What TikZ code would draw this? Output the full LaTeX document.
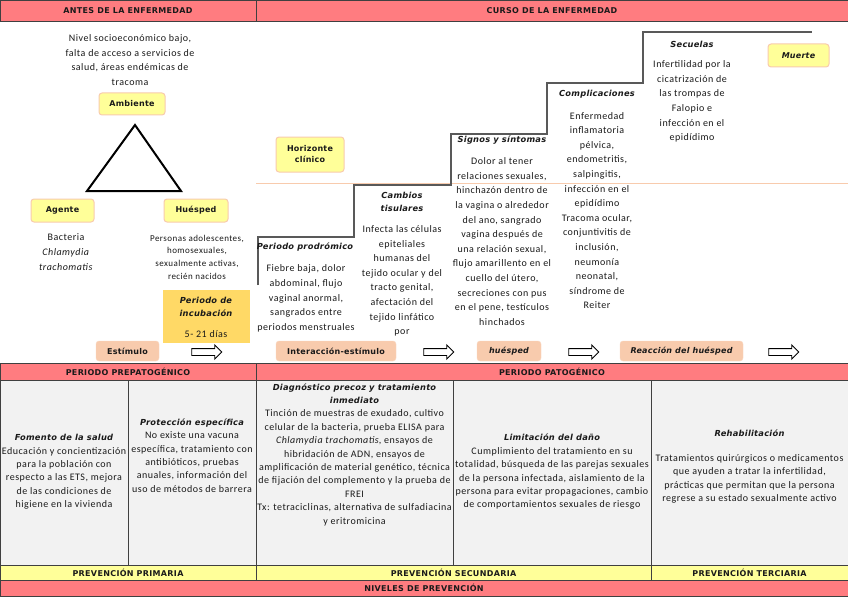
\documentclass[tikz,border=0pt]{standalone}
\usepackage{fontspec}
\setmainfont{Carlito}[LetterSpace=5]
\newfontfamily\vfont{DejaVu Sans}[LetterSpace=3]
\newfontfamily\vcaps{DejaVu Sans}[LetterSpace=4]
\usetikzlibrary{shapes.arrows}
\definecolor{hred}{HTML}{FF7C80}
\definecolor{lyel}{HTML}{FFFF99}
\definecolor{cgray}{HTML}{F2F2F2}
\definecolor{peach}{HTML}{F8CBAD}
\definecolor{peachb}{HTML}{F4B183}
\definecolor{gold}{HTML}{FFD966}
\definecolor{stairc}{HTML}{595959}
\definecolor{gridc}{HTML}{404040}
\definecolor{ink}{HTML}{1A1A1A}
\newcommand{\hf}{\vfont\bfseries\itshape\fontsize{8.3}{9}\selectfont}
\tikzset{
  body/.style={font=\fontsize{10}{14.6}\selectfont, align=center, inner sep=0pt, text=ink},
  tbody/.style={font=\fontsize{10}{13.4}\selectfont, align=center, inner sep=0pt, text=ink},
  head/.style={font=\vfont\bfseries\itshape\fontsize{8.3}{13}\selectfont, align=center, inner sep=0pt, text=ink},
  caps/.style={font=\vcaps\bfseries\fontsize{8}{9}\selectfont, inner sep=0pt, text=ink},
  ybox/.style={draw=peach, line width=1pt, fill=lyel, rounded corners=3pt, font=\vfont\bfseries\fontsize{8}{11}\selectfont, align=center, inner sep=0pt, text=ink},
  pbox/.style={draw=peachb!50, fill=peach, rounded corners=3pt, font=\vfont\bfseries\fontsize{8}{9}\selectfont, inner sep=0pt, minimum height=20pt, text=ink},
  harrow/.style={single arrow, draw=black, fill=white, line width=0.9pt, minimum height=30pt, inner sep=3pt, single arrow head extend=3.5pt},
  bar/.style={draw=gridc, line width=0.7pt},
}
\begin{document}
\begin{tikzpicture}[x=1pt,y=-1pt]
\useasboundingbox (0,0) rectangle (848,599);
\fill[white] (0,0) rectangle (848,599);

% header bars
\draw[bar, fill=hred] (0,0) rectangle (256,21);
\draw[bar, fill=hred] (256,0) rectangle (848,21);
\node[caps] (hA) at (128,10.5) {ANTES DE LA ENFERMEDAD};
\node[caps] (hC) at (552,10.5) {CURSO DE LA ENFERMEDAD};

% left part
\node[body] (amb) at (130,60) {Nivel socioeconómico bajo,\\falta de acceso a servicios de\\salud, áreas endémicas de\\tracoma};
\node[ybox, minimum width=66pt, minimum height=22pt] (Amb) at (132,104) {Ambiente};
\draw[line width=2pt, line join=miter] (135,125) -- (181,191) -- (87,191) -- cycle;
\node[ybox, minimum width=63pt, minimum height=23pt] (Age) at (62.5,210.5) {Agente};
\node[ybox, minimum width=64pt, minimum height=23pt] (Hue) at (196,210.5) {Huésped};
\node[body, font=\fontsize{10}{15}\selectfont] (bac) at (66,252) {Bacteria\\\textit{Chlamydia}\\\textit{trachomatis}};
\node[body, font=\fontsize{9}{12.7}\selectfont] (per) at (197,257) {Personas adolescentes,\\homosexuales,\\sexualmente activas,\\recién nacidos};
\fill[gold] (163,290) rectangle (250,343);
\node[head] (inc) at (206,306.5) {Periodo de\\incubación};
\node[body] (dias) at (206,334) {5- 21 días};
\node[pbox, minimum width=63pt] (est) at (127.5,351) {Estímulo};
\node[harrow] (ar1) at (205,352) {};

% horizon line
\draw[peach, line width=1pt] (256,183) -- (848,183);
\node[ybox, minimum width=68pt, minimum height=35pt] (hor) at (310,154.5) {Horizonte\\clínico};

% stairs
\draw[stairc, line width=1.4pt] (258,285) -- (258,237) -- (354,237) -- (354,185) -- (451,185) -- (451,134) -- (547,134) -- (547,83) -- (643,83) -- (643,32) -- (812,32);

\node[head] (prh) at (305,247) {Periodo prodrómico};
\node[body] (prb) at (306,298.5) {Fiebre baja, dolor\\abdominal, flujo\\vaginal anormal,\\sangrados entre\\periodos menstruales};
\node[head] (cah) at (402,201.5) {Cambios\\tisulares};
\node[body] (cab) at (402,281) {Infecta las células\\epiteliales\\humanas del\\tejido ocular y del\\tracto genital,\\afectación del\\tejido linfático\\por};
\node[head] (sih) at (502,140) {Signos y síntomas};
\node[body] (sib) at (502,241.5) {Dolor al tener\\relaciones sexuales,\\hinchazón dentro de\\la vagina o alrededor\\del ano, sangrado\\vagina después de\\una relación sexual,\\flujo amarillento en el\\cuello del útero,\\secreciones con pus\\en el pene, testículos\\hinchados};
\node[head] (coh) at (597,94) {Complicaciones};
\node[body] (cob) at (597,210.5) {Enfermedad\\inflamatoria\\pélvica,\\endometritis,\\salpingitis,\\infección en el\\epidídimo\\Tracoma ocular,\\conjuntivitis de\\inclusión,\\neumonía\\neonatal,\\síndrome de\\Reiter};
\node[head] (seh) at (692,44) {Secuelas};
\node[body] (seb) at (692,101.5) {Infertilidad por la\\cicatrización de\\las trompas de\\Falopio e\\infección en el\\epidídimo};
\node[ybox, minimum width=61pt, minimum height=23pt, font=\vfont\bfseries\itshape\fontsize{8}{9}\selectfont] (mue) at (798.5,55.5) {Muerte};

% interaction row
\node[pbox, minimum width=120pt] (int) at (336,351) {Interacción-estímulo};
\node[harrow] (ar2) at (437,352) {};
\node[pbox, minimum width=64pt, font=\vfont\bfseries\itshape\fontsize{8}{9}\selectfont] (hus) at (509,351) {huésped};
\node[harrow] (ar3) at (582,352) {};
\node[pbox, minimum width=123pt, font=\vfont\bfseries\itshape\fontsize{8}{9}\selectfont] (rea) at (681.5,351) {Reacción del huésped};
\node[harrow] (ar4) at (782,352) {};

% bottom table
\draw[bar, fill=hred] (0,363) rectangle (256,380);
\draw[bar, fill=hred] (256,363) rectangle (848,380);
\node[caps] (pp) at (128,371.5) {PERIODO PREPATOGÉNICO};
\node[caps] (pt) at (552,371.5) {PERIODO PATOGÉNICO};
\draw[bar, fill=cgray] (0,380) rectangle (848,565);
\foreach \xx in {128,256,453,651} \draw[bar] (\xx,380) -- (\xx,565);
\draw[bar, fill=lyel] (0,565) rectangle (848,580);
\foreach \xx in {256,651} \draw[bar] (\xx,565) -- (\xx,580);
\draw[bar, fill=hred] (0,580) rectangle (848,596);
\node[caps] (p1) at (128,572.5) {PREVENCIÓN PRIMARIA};
\node[caps] (p2) at (453.5,572.5) {PREVENCIÓN SECUNDARIA};
\node[caps] (p3) at (749.5,572.5) {PREVENCIÓN TERCIARIA};
\node[caps] (niv) at (424,588) {NIVELES DE PREVENCIÓN};

\node[tbody] (c1) at (64,472) {{\hf Fomento de la salud}\\Educación y concientización\\para la población con\\respecto a las ETS, mejora\\de las condiciones de\\higiene en la vivienda};
\node[tbody] (c2) at (192,455.5) {{\hf Protección específica}\\No existe una vacuna\\específica, tratamiento con\\antibióticos, pruebas\\anuales, información del\\uso de métodos de barrera};
\node[tbody] (c3) at (354.5,454.5) {{\hf Diagnóstico precoz y tratamiento}\\{\hf inmediato}\\Tinción de muestras de exudado, cultivo\\celular de la bacteria, prueba ELISA para\\\textit{Chlamydia trachomatis}, ensayos de\\hibridación de ADN, ensayos de\\amplificación de material genético, técnica\\de fijación del complemento y la prueba de\\FREI\\Tx: tetraciclinas, alternativa de sulfadiacina\\y eritromicina};
\node[tbody] (c4) at (552,472) {{\hf Limitación del daño}\\Cumplimiento del tratamiento en su\\totalidad, búsqueda de las parejas sexuales\\de la persona infectada, aislamiento de la\\persona para evitar propagaciones, cambio\\de comportamientos sexuales de riesgo};
\node[tbody] (c5) at (749.5,466.5) {{\hf Rehabilitación}\\[12pt]Tratamientos quirúrgicos o medicamentos\\que ayuden a tratar la infertilidad,\\prácticas que permitan que la persona\\regrese a su estado sexualmente activo};
\end{tikzpicture}
\end{document}
